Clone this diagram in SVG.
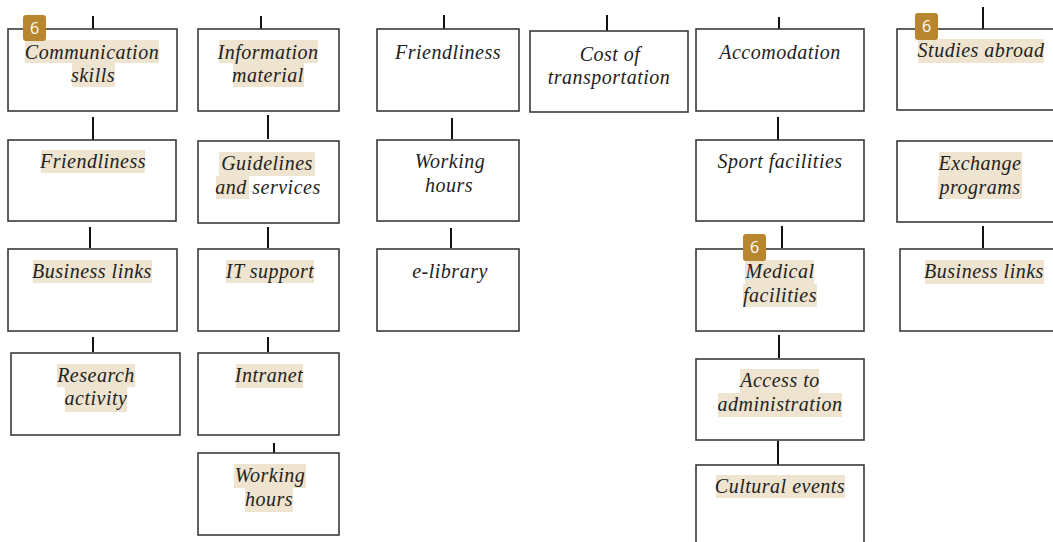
<svg xmlns="http://www.w3.org/2000/svg" width="1053" height="542" viewBox="0 0 1053 542">
<style>
.box{fill:#fff;stroke:#3a3a3a;stroke-width:1.6}
.hl{fill:#EEE4D0}
.t{font-family:"Liberation Serif","Times New Roman",serif;font-style:italic;font-size:20px;letter-spacing:0.5px;fill:#222;text-anchor:middle}
.c line{stroke:#111;stroke-width:2}
.badge{fill:#B8862E}
.bt{font-family:"Open Sans","Noto Sans",sans-serif;font-size:16px;fill:#fff;text-anchor:middle}
</style>
<rect width="1053" height="542" fill="#fff"/>
<g class="c" id="connectors">
<line x1="93" y1="16" x2="93" y2="29"/>
<line x1="93" y1="117" x2="93" y2="140"/>
<line x1="90" y1="227" x2="90" y2="248"/>
<line x1="93" y1="337" x2="93" y2="352"/>
<line x1="261" y1="16" x2="261" y2="29"/>
<line x1="268" y1="115" x2="268" y2="139"/>
<line x1="268" y1="227" x2="268" y2="248"/>
<line x1="268" y1="337" x2="268" y2="352"/>
<line x1="274" y1="443" x2="274" y2="457"/>
<line x1="444" y1="15" x2="444" y2="29"/>
<line x1="452" y1="118" x2="452" y2="139"/>
<line x1="451" y1="228" x2="451" y2="248"/>
<line x1="607" y1="15" x2="607" y2="31"/>
<line x1="779" y1="17" x2="779" y2="29"/>
<line x1="778" y1="117" x2="778" y2="140"/>
<line x1="782" y1="226" x2="782" y2="248"/>
<line x1="779" y1="335" x2="779" y2="358"/>
<line x1="778" y1="441" x2="778" y2="465"/>
<line x1="983" y1="7" x2="983" y2="29"/>
<line x1="983" y1="226" x2="983" y2="248"/>
</g>
<g id="n-communication">
<rect class="box" x="8" y="29" width="169" height="82"/>
<rect class="hl" x="25" y="40" width="134" height="23"/><rect class="hl" x="72" y="63" width="43" height="24"/>
<text class="t" x="92" y="59">Communication</text><text class="t" x="93" y="82">skills</text>
</g>
<g id="n-friendliness1">
<rect class="box" x="8" y="140" width="168" height="81"/>
<rect class="hl" x="41" y="150" width="104" height="23"/>
<text class="t" x="93" y="168">Friendliness</text>
</g>
<g id="n-business1">
<rect class="box" x="8" y="249" width="169" height="82"/>
<rect class="hl" x="33" y="260" width="119" height="23"/>
<text class="t" x="92" y="278">Business links</text>
</g>
<g id="n-research">
<rect class="box" x="11" y="353" width="169" height="82"/>
<rect class="hl" x="57" y="364" width="78" height="23"/><rect class="hl" x="65" y="387" width="62" height="25"/>
<text class="t" x="96" y="382">Research</text><text class="t" x="96" y="405">activity</text>
</g>
<g id="n-information">
<rect class="box" x="198" y="29" width="141" height="82"/>
<rect class="hl" x="219" y="40" width="99" height="23"/><rect class="hl" x="233" y="63" width="71" height="24"/>
<text class="t" x="268" y="59">Information</text><text class="t" x="268" y="82">material</text>
</g>
<g id="n-guidelines">
<rect class="box" x="198" y="141" width="141" height="82"/>
<rect class="hl" x="219" y="152" width="96" height="24"/><rect class="hl" x="216" y="176" width="33" height="23"/>
<text class="t" x="267" y="170">Guidelines</text><text class="t" x="268" y="194">and services</text>
</g>
<g id="n-itsupport">
<rect class="box" x="198" y="249" width="141" height="82"/>
<rect class="hl" x="226" y="260" width="88" height="23"/>
<text class="t" x="270" y="278">IT support</text>
</g>
<g id="n-intranet">
<rect class="box" x="198" y="353" width="141" height="82"/>
<rect class="hl" x="236" y="364" width="67" height="24"/>
<text class="t" x="269" y="382">Intranet</text>
</g>
<g id="n-workinghours1">
<rect class="box" x="198" y="453" width="141" height="82"/>
<rect class="hl" x="234" y="464" width="72" height="24"/><rect class="hl" x="245" y="488" width="48" height="24"/>
<text class="t" x="270" y="482">Working</text><text class="t" x="269" y="506">hours</text>
</g>
<g id="n-friendliness2">
<rect class="box" x="377" y="29" width="142" height="82"/>
<text class="t" x="448" y="59">Friendliness</text>
</g>
<g id="n-workinghours2">
<rect class="box" x="377" y="140" width="142" height="81"/>
<text class="t" x="450" y="168">Working</text><text class="t" x="449" y="192">hours</text>
</g>
<g id="n-elibrary">
<rect class="box" x="377" y="249" width="142" height="82"/>
<text class="t" x="450" y="278">e-library</text>
</g>
<g id="n-cost">
<rect class="box" x="530" y="31" width="158" height="81"/>
<text class="t" x="610" y="61">Cost of</text><text class="t" x="609" y="84">transportation</text>
</g>
<g id="n-accomodation">
<rect class="box" x="696" y="29" width="168" height="82"/>
<text class="t" x="780" y="59">Accomodation</text>
</g>
<g id="n-sport">
<rect class="box" x="696" y="140" width="168" height="81"/>
<text class="t" x="780" y="168">Sport facilities</text>
</g>
<g id="n-medical">
<rect class="box" x="696" y="249" width="168" height="82"/>
<rect class="hl" x="745" y="260" width="69" height="24"/><rect class="hl" x="743" y="284" width="74" height="23"/>
<text class="t" x="780" y="278">Medical</text><text class="t" x="780" y="302">facilities</text>
</g>
<g id="n-access">
<rect class="box" x="696" y="359" width="168" height="81"/>
<rect class="hl" x="740" y="369" width="79" height="24"/><rect class="hl" x="718" y="393" width="124" height="24"/>
<text class="t" x="780" y="387">Access to</text><text class="t" x="780" y="411">administration</text>
</g>
<g id="n-cultural">
<rect class="box" x="696" y="465" width="168" height="90"/>
<rect class="hl" x="716" y="475" width="129" height="23"/>
<text class="t" x="780" y="493">Cultural events</text>
</g>
<g id="n-studies">
<rect class="box" x="897" y="29" width="170" height="81"/>
<rect class="hl" x="918" y="39" width="126" height="24"/>
<text class="t" x="981" y="57">Studies abroad</text>
</g>
<g id="n-exchange">
<rect class="box" x="897" y="141" width="170" height="81"/>
<rect class="hl" x="939" y="152" width="83" height="24"/><rect class="hl" x="938" y="176" width="84" height="23"/>
<text class="t" x="980" y="170">Exchange</text><text class="t" x="980" y="194">programs</text>
</g>
<g id="n-business2">
<rect class="box" x="900" y="249" width="170" height="82"/>
<rect class="hl" x="925" y="260" width="119" height="24"/>
<text class="t" x="984" y="278">Business links</text>
</g>
<g id="badges">
<rect class="badge" x="23" y="15" width="23" height="26" rx="3"/><text class="bt" x="34.5" y="34">6</text>
<rect class="badge" x="915" y="13" width="23" height="27" rx="3"/><text class="bt" x="926.5" y="32">6</text>
<rect class="badge" x="743" y="234" width="23" height="27" rx="3"/><text class="bt" x="754.5" y="253">6</text>
</g>
</svg>
